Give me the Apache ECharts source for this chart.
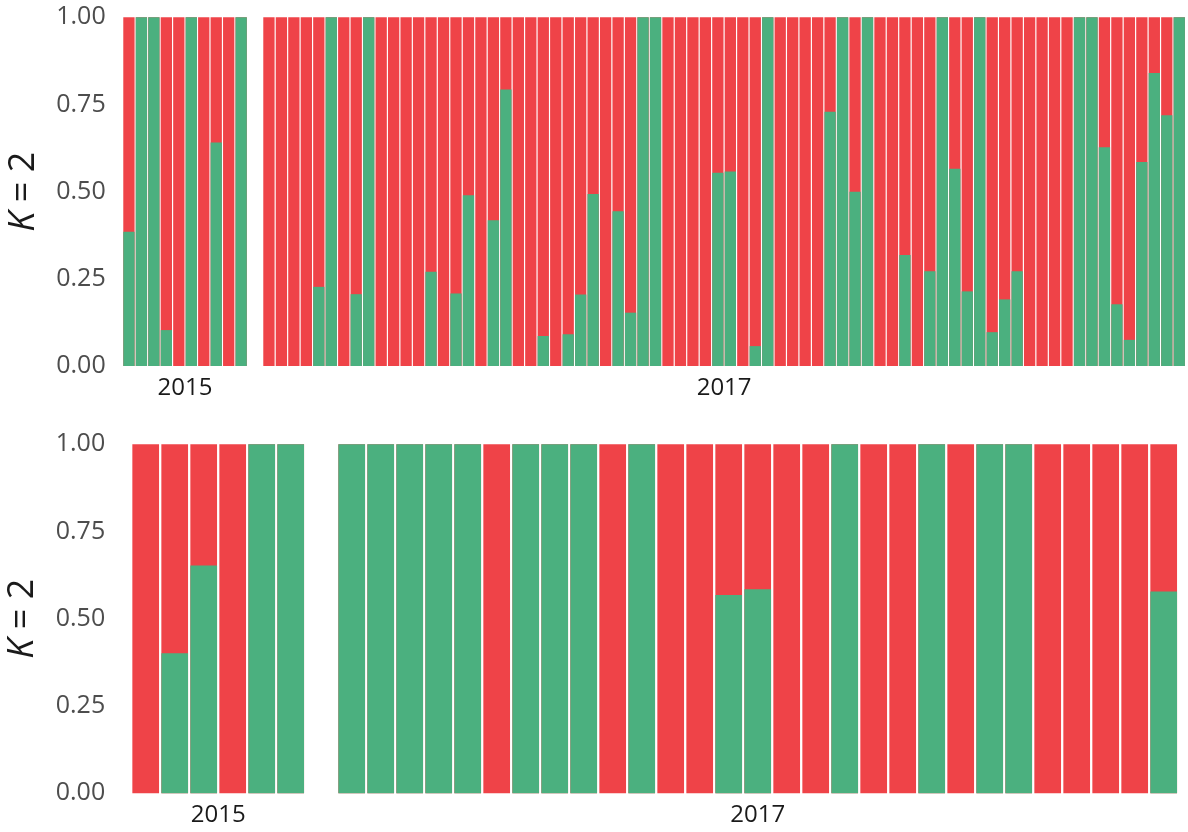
<!DOCTYPE html>
<html>
<head>
<meta charset="utf-8">
<title>K = 2</title>
<script src="https://cdn.jsdelivr.net/npm/echarts@6/dist/echarts.min.js"></script>
<style>
  html, body { margin: 0; padding: 0; background: #fff; }
  #chart { width: 1188px; height: 832px; }
</style>
</head>
<body>
<div id="chart"></div>
<script>
// share of the green cluster per sample; the rest of each bar is red
const top2015 = [0.385, 1, 1, 0.103, 0, 1, 0, 0.641, 0, 1];
const top2017 = [
  0, 0, 0, 0, 0.227, 1, 0, 0.206, 1, 0,
  0, 0, 0, 0.27, 0, 0.208, 0.49, 0, 0.418, 0.793,
  0, 0, 0.086, 0, 0.091, 0.205, 0.493, 0, 0.444, 0.153,
  1, 1, 0, 0, 0, 0, 0.554, 0.558, 0, 0.057,
  1, 0, 0, 0, 0, 0.729, 1, 0.5, 1, 0,
  0, 0.318, 0, 0.272, 1, 0.566, 0.214, 1, 0.097, 0.191,
  0.272, 0, 0, 0, 0, 1, 1, 0.627, 0.177, 0.075,
  0.585, 0.84, 0.719, 1
];
const bottom2015 = [0, 0.401, 0.653, 0, 1, 1];
const bottom2017 = [
  1, 1, 1, 1, 1, 0, 1, 1, 1, 0,
  1, 0, 0, 0.568, 0.585, 0, 0, 1, 0, 0,
  1, 0, 1, 1, 0, 0, 0, 0, 0.578
];
const yTicks = [0, 0.25, 0.5, 0.75, 1];
const years = ['2015', '2017'];

const GREEN = '#4BB07F';
const RED = '#EF4348';
const FONT = '"Open Sans", Lato, sans-serif';

const panels = [
  { grid: { left: 122.7, top: 17.3, width: 124.7, height: 348.7 }, data: top2015, year: years[0], barWidth: 11.3, yAxis: true, labelGap: 17 },
  { grid: { left: 262.7, top: 17.3, width: 922.8, height: 348.7 }, data: top2017, year: years[1], barWidth: 11.3 },
  { grid: { left: 131.2, top: 444.3, width: 174, height: 349 }, data: bottom2015, year: years[0], barWidth: 26.7, yAxis: true, labelGap: 26 },
  { grid: { left: 337.2, top: 444.3, width: 841, height: 349 }, data: bottom2017, year: years[1], barWidth: 26.7 }
];

const chart = echarts.init(document.getElementById('chart'));

chart.setOption({
  animation: false,
  textStyle: { fontFamily: FONT },
  grid: panels.map(p => p.grid),
  xAxis: panels.map((p, i) => ({
    type: 'category',
    gridIndex: i,
    data: p.data.map((_, j) => j + 1),
    axisLine: { show: false },
    axisTick: { show: false },
    axisLabel: { show: false },
    name: p.year,
    nameLocation: 'middle',
    nameGap: 10,
    nameTextStyle: { color: '#1a1a1a', fontSize: 24, fontFamily: FONT }
  })),
  yAxis: panels.map((p, i) => ({
    type: 'value',
    gridIndex: i,
    min: yTicks[0],
    max: yTicks[yTicks.length - 1],
    interval: 0.25,
    axisLine: { show: false },
    axisTick: { show: false },
    splitLine: { show: false },
    axisLabel: {
      show: !!p.yAxis,
      margin: p.labelGap || 8,
      color: '#4d4d4d',
      fontSize: 25,
      fontFamily: FONT,
      formatter: v => v.toFixed(2)
    },
    name: p.yAxis ? '{k|K} = 2' : '',
    nameLocation: 'middle',
    nameRotate: 90,
    nameGap: p.labelGap + 64,
    nameTextStyle: {
      color: '#1a1a1a',
      fontSize: 36,
      fontFamily: FONT,
      rich: { k: { fontStyle: 'italic', fontSize: 36, fontFamily: FONT, color: '#1a1a1a' } }
    }
  })),
  series: panels.map((p, i) => ({
    type: 'bar',
    xAxisIndex: i,
    yAxisIndex: i,
    data: p.data,
    barWidth: p.barWidth,
    itemStyle: { color: GREEN },
    showBackground: true,
    backgroundStyle: { color: RED, opacity: 1 }
  }))
});
</script>
</body>
</html>
